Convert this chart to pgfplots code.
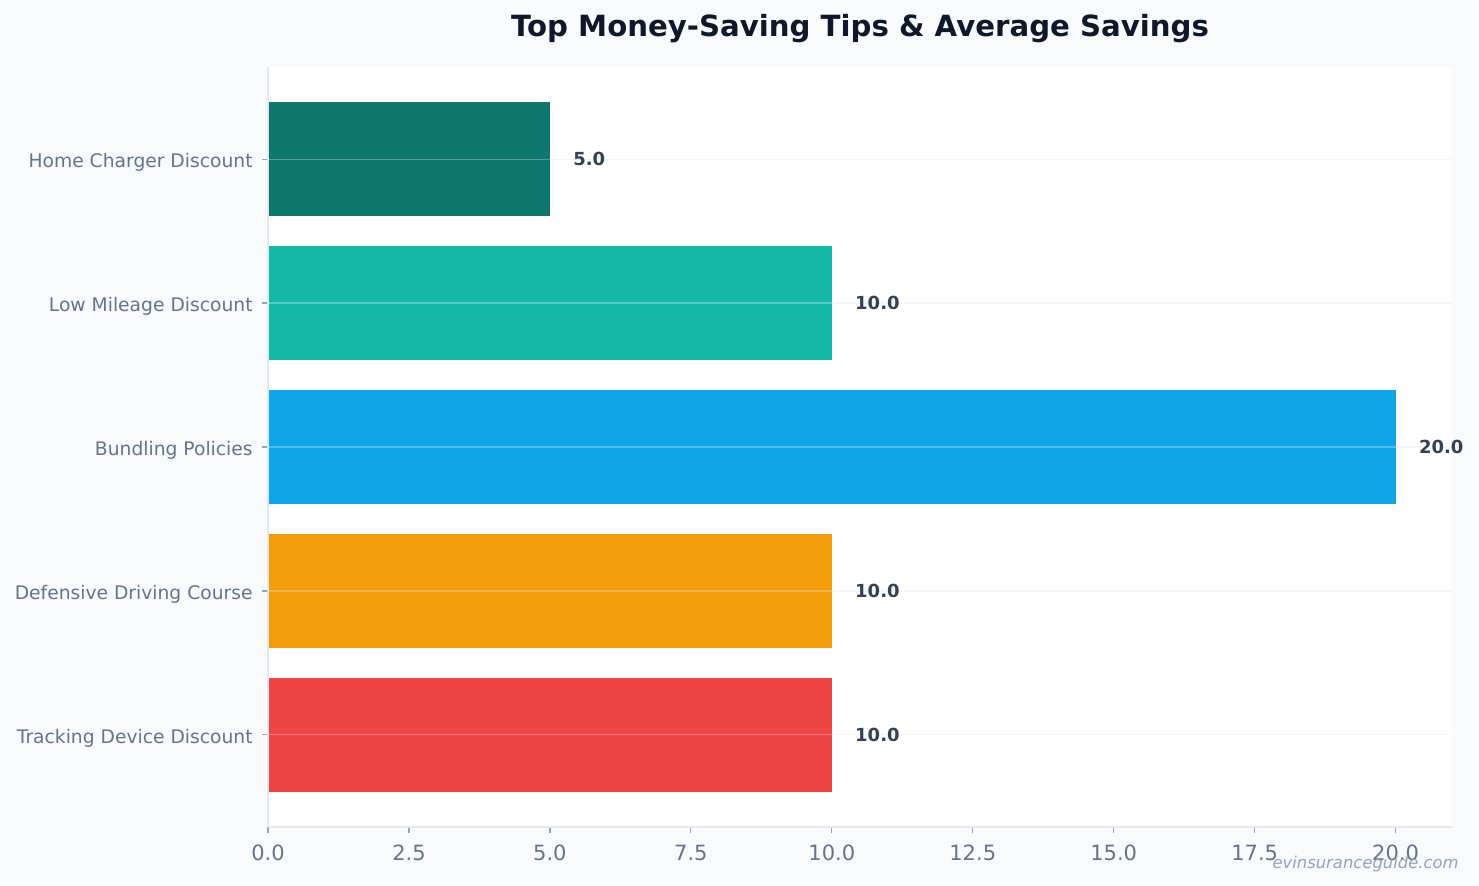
\documentclass[border=0pt]{standalone}
\usepackage{pgfplots}
\pgfplotsset{compat=1.18}
\usepackage{fontspec}
\setmainfont{DejaVu Sans}
\definecolor{bg}{HTML}{F8FAFC}
\definecolor{spine}{HTML}{E2E8F0}
\definecolor{tickc}{HTML}{94A3B8}
\definecolor{labc}{HTML}{64748B}
\definecolor{valc}{HTML}{334155}
\definecolor{titc}{HTML}{0F172A}
\definecolor{cA}{HTML}{0F766E}
\definecolor{cB}{HTML}{14B8A6}
\definecolor{cC}{HTML}{0EA5E9}
\definecolor{cD}{HTML}{F59E0B}
\definecolor{cE}{HTML}{EF4444}
\begin{document}
\begin{tikzpicture}[x=1pt,y=1pt]
\fill[bg] (0,0) rectangle (739.5,443);
\useasboundingbox (0,0) rectangle (739.5,443);
\begin{axis}[
  at={(134pt,29.5pt)}, anchor=south west,
  scale only axis, width=592pt, height=380pt,
  xmin=0, xmax=21, ymin=-0.64, ymax=4.64,
  axis background/.style={fill=white},
  axis x line*=bottom, axis y line*=left,
  axis line style={spine, line width=0.8pt},
  xbar, bar shift=0pt, bar width=57pt,
  xtick={0,2.5,...,20},
  ytick={0,1,2,3,4},
  yticklabels={Tracking Device Discount, Defensive Driving Course, Bundling Policies, Low Mileage Discount, Home Charger Discount},
  tick align=outside, major tick length=3pt,
  tick style={tickc, line width=0.6pt},
  xtick pos=bottom, ytick pos=left,
  /pgf/number format/assume math mode=true,
  xticklabel={\pgfmathprintnumber[fixed,fixed zerofill,precision=1]{\tick}},
  xticklabel style={font=\fontsize{10.5}{10.5}\selectfont, labc, inner sep=0pt, yshift=-6pt},
  yticklabel style={font=\fontsize{9.35}{9.35}\selectfont, labc, inner sep=0pt, xshift=-4.5pt, yshift=-1.5pt},
  ymajorgrids, major grid style={spine, opacity=0.35, line width=0.6pt},
  axis on top,
  point meta=x,
  nodes near coords={\pgfmathprintnumber[fixed,fixed zerofill,precision=1]{\pgfplotspointmeta}},
  every node near coord/.append style={anchor=west, xshift=11.5pt, inner sep=0pt, font=\bfseries\fontsize{9}{9}\selectfont, valc},
]
\addplot[fill=cE, draw=none] coordinates {(10,0)};
\addplot[fill=cD, draw=none] coordinates {(10,1)};
\addplot[fill=cC, draw=none] coordinates {(20,2)};
\addplot[fill=cB, draw=none] coordinates {(10,3)};
\addplot[fill=cA, draw=none] coordinates {(5,4)};
\end{axis}
\node[font=\bfseries\fontsize{14.6}{14.6}\selectfont, titc] at (430,428.5) {Top Money-Saving Tips \& Average Savings};
\node[font=\itshape\fontsize{8.2}{8.2}\selectfont, tickc, anchor=east, inner sep=0pt] at (729.5,11) {evinsuranceguide.com};
\end{tikzpicture}
\end{document}
